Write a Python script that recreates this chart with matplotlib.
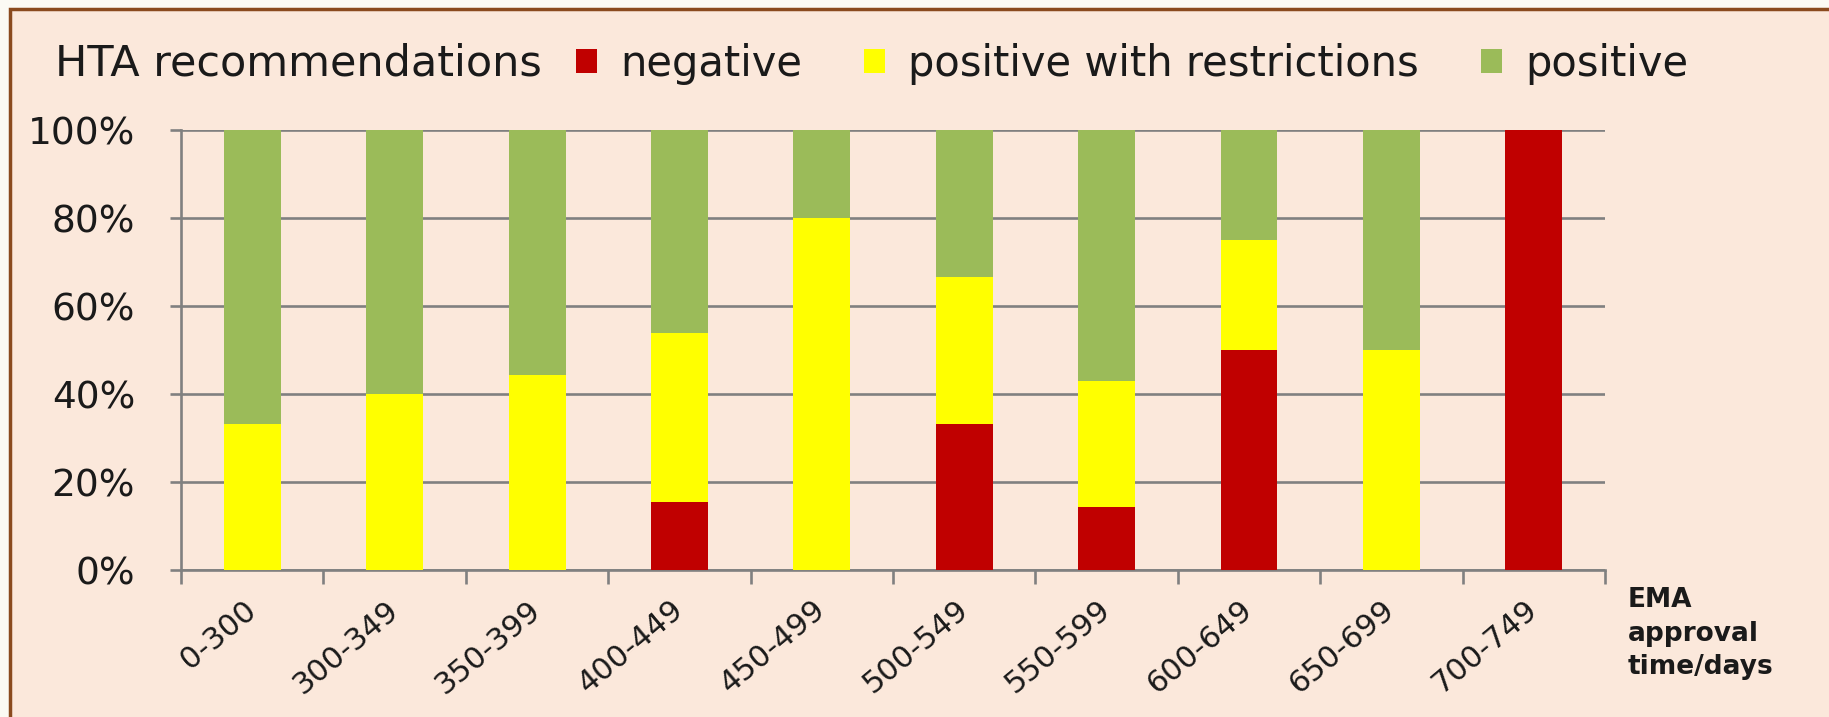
import numpy as np
import matplotlib
matplotlib.use('Agg')
import matplotlib.pyplot as plt
from matplotlib.patches import Rectangle

plt.rcParams['font.family'] = ['DejaVu Sans']

# 데이터: EMA 승인 기간별 HTA 권고 비율 (%)
categories = ['0-300', '300-349', '350-399', '400-449', '450-499',
              '500-549', '550-599', '600-649', '650-699', '700-749']
negative = [0, 0, 0, 15.4, 0, 33.3, 14.3, 50, 0, 100]
restricted = [33.3, 40, 44.4, 38.5, 80, 33.3, 28.6, 25, 50, 0]
positive = [66.7, 60, 55.6, 46.1, 20, 33.4, 57.1, 25, 50, 0]

series_names = ['negative', 'positive with restrictions', 'positive']
colors = ['#C00000', '#FFFF00', '#9BBB59']

bg = '#FBE8DB'
grid_col = '#808080'
text_col = '#1A1A1A'

fig = plt.figure(figsize=(18.29, 7.17), dpi=100, facecolor='#FBFAF4')

# 테두리 있는 배경 패널 (축보다 먼저 그림)
panel = Rectangle((10 / 1829, -0.02), 1.05, 1 - 9 / 717 + 0.02,
                  transform=fig.transFigure, facecolor=bg,
                  edgecolor='#8A4A1E', linewidth=2.5, zorder=-10)
fig.patches.append(panel)

ax = fig.add_axes([0.099, 0.205, 0.7785, 0.613])
ax.set_facecolor('none')

x = np.arange(len(categories))
width = 0.4
bottom = np.zeros(len(categories))
handles = []
for vals, name, col in zip([negative, restricted, positive], series_names, colors):
    b = ax.bar(x, vals, width, bottom=bottom, color=col, label=name,
               edgecolor='none', zorder=3)
    handles.append(b)
    bottom += np.array(vals)

ax.set_xlim(-0.5, len(categories) - 0.5)
ax.set_ylim(0, 100)

# y축: 20% 단위 눈금과 격자선
ax.set_yticks(np.arange(0, 101, 20))
ax.set_yticklabels([f'{v}%' for v in range(0, 101, 20)])
ax.yaxis.grid(True, color=grid_col, linewidth=1.9, zorder=0)
ax.set_axisbelow(True)
ax.tick_params(axis='y', direction='out', length=8, width=1.9,
               color=grid_col, labelsize=27, labelcolor=text_col, pad=25)

# x축: 경계에 눈금, 범주 중앙에 라벨
ax.set_xticks(np.arange(-0.5, len(categories)))
ax.set_xticklabels([])
ax.tick_params(axis='x', which='major', direction='out', length=10,
               width=1.9, color=grid_col)
ax.set_xticks(x, minor=True)
ax.set_xticklabels(categories, minor=True)
ax.tick_params(axis='x', which='minor', length=0, labelsize=22,
               labelcolor=text_col, pad=26)
for lbl in ax.get_xticklabels(minor=True):
    lbl.set_rotation(40)
    lbl.set_ha('right')
    lbl.set_va('center')
    lbl.set_rotation_mode('anchor')

for side in ['top', 'right']:
    ax.spines[side].set_visible(False)
for side in ['left', 'bottom']:
    ax.spines[side].set_color(grid_col)
    ax.spines[side].set_linewidth(1.9)

# 범례 (제목은 왼쪽에 따로)
fig.text(55 / 1829, 0.911, 'HTA recommendations', fontsize=31,
         color=text_col, va='center', ha='left')
fig.legend(handles=handles, labels=series_names, loc='center left',
           bbox_to_anchor=(576 / 1829, 0.911), ncol=3, frameon=False,
           fontsize=30, handlelength=0.5, handleheight=0.5,
           handletextpad=0.55, columnspacing=1.5, borderaxespad=0,
           borderpad=0, labelcolor=text_col)

# x축 제목
fig.text(1628 / 1829, 1 - 587 / 717, 'EMA\napproval\ntime/days',
         fontsize=19, fontweight='bold', color=text_col,
         ha='left', va='top', linespacing=1.38)

plt.savefig('out.png', dpi=100, facecolor=fig.get_facecolor())
